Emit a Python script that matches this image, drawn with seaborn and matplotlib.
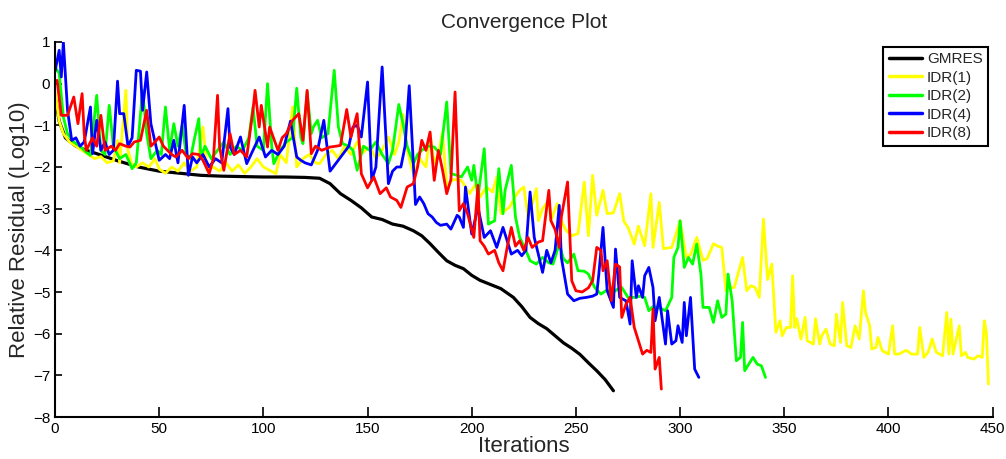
import pandas as pd
import matplotlib
matplotlib.use("Agg")
import matplotlib.pyplot as plt
import seaborn as sns

# values (iteration, log10 relative residual)
gmres_it = [0, 2, 5, 10, 15, 20, 30, 40, 50, 60, 70, 80, 90, 100, 110, 120, 127, 132, 137, 142,
            147, 152, 157, 162, 167, 172, 176, 180, 184, 188, 192, 196, 200, 204, 209, 214, 220,
            224, 228, 232, 236, 240, 244, 248, 252, 256, 260, 264, 268]
gmres_res = [-0.3, -0.9, -1.3, -1.5, -1.6, -1.68, -1.85, -2.0, -2.1, -2.15, -2.2, -2.22, -2.23,
             -2.24, -2.24, -2.25, -2.27, -2.4, -2.64, -2.8, -2.98, -3.2, -3.26, -3.37, -3.42, -3.53,
             -3.65, -3.84, -4.05, -4.25, -4.36, -4.44, -4.6, -4.72, -4.82, -4.92, -5.13, -5.35,
             -5.61, -5.76, -5.88, -6.05, -6.22, -6.35, -6.5, -6.7, -6.89, -7.1, -7.37]

idr1_it = [0, 2, 4, 7, 10, 13, 16, 19, 22, 25, 28, 30, 31, 34, 35, 37, 39, 42, 45, 48, 50, 53,
           56, 59, 62, 65, 68, 71, 73, 76, 79, 82, 85, 88, 91, 94, 97, 100, 103, 106, 108, 111,
           114, 116, 119, 122, 125, 127, 130, 133, 136, 139, 142, 145, 148, 151, 154, 157, 160,
           163, 165, 167, 169, 172, 175, 178, 180, 182, 184, 186, 188, 191, 195, 199, 202, 204,
           207, 210, 212, 214, 218, 221, 223, 225, 227, 229, 231, 232, 234, 237, 238, 241, 243,
           245, 248, 251, 254, 256, 258, 260, 263, 265, 268, 271, 273, 275, 278, 280, 283, 286,
           287, 290, 292, 296, 300, 303, 305, 308, 311, 313, 316, 318, 320, 322, 323, 326, 330,
           332, 334, 336, 338, 340, 342, 344, 346, 348, 349, 351, 353, 354, 355, 356, 358, 360,
           361, 364, 365, 367, 368, 370, 372, 374, 375, 377, 378, 380, 382, 384, 386, 388, 389,
           391, 392, 394, 395, 397, 400, 402, 403, 405, 408, 409, 411, 414, 415, 417, 419, 421,
           423, 426, 428, 429, 430, 431, 434, 435, 437, 438, 441, 443, 445, 446, 447, 448]
idr1_res = [-0.2, -0.9, -1.2, -1.4, -1.5, -1.6, -1.7, -1.8, -1.75, -1.9, -1.85, -1.36, -1.9,
            -0.16, -1.6, -1.95, -2.0, -1.9, -2.0, -1.8, -2.05, -2.15, -2.0, -2.1, -1.9, -2.1, -2.0,
            -1.04, -2.08, -2.0, -2.1, -1.9, -2.1, -1.95, -2.15, -2.0, -1.8, -2.0, -2.08, -2.16,
            -1.7, -1.9, -0.56, -2.0, -1.8, -1.7, -1.9, -1.92, -1.7, -1.6, -1.8, -1.5, -1.7, -1.4,
            -1.65, -1.5, -1.8, -1.6, -1.28, -1.7, -1.4, -0.74, -1.6, -2.16, -1.8, -2.0, -1.2,
            -1.9, -1.7, -1.16, -2.48, -2.3, -2.32, -2.64, -2.4, -2.72, -2.48, -2.6, -2.24, -3.12,
            -2.97, -2.7, -2.56, -2.48, -3.2, -2.9, -2.52, -3.29, -3.0, -2.8, -3.29, -2.88, -3.29,
            -3.5, -3.65, -3.6, -2.36, -3.65, -2.2, -3.16, -2.56, -3.12, -3.1, -2.64, -3.3, -3.45,
            -3.85, -3.42, -3.89, -2.64, -3.93, -2.85, -3.96, -3.93, -3.29, -4.17, -4.1, -3.69,
            -4.24, -4.2, -3.84, -3.9, -3.93, -4.97, -4.9, -4.89, -4.17, -4.97, -4.85, -4.89,
            -5.13, -3.25, -4.7, -4.33, -5.97, -5.69, -6.05, -5.85, -5.85, -4.61, -5.85, -5.64,
            -6.13, -5.61, -6.17, -6.25, -5.64, -6.25, -6.05, -5.89, -6.25, -6.29, -5.53, -6.21,
            -5.25, -6.29, -6.33, -5.81, -6.13, -4.97, -5.49, -5.81, -6.37, -6.33, -6.09, -6.41,
            -6.49, -5.81, -6.49, -6.49, -6.41, -6.41, -6.49, -6.49, -5.85, -6.57, -6.45, -6.13,
            -6.45, -6.53, -5.49, -6.49, -5.65, -6.49, -5.81, -6.53, -6.45, -6.57, -6.61, -6.53,
            -6.57, -5.69, -5.97, -7.21]

idr2_it = [0, 2, 4, 6, 9, 12, 15, 17, 20, 22, 24, 26, 28, 31, 34, 37, 39, 42, 44, 46, 49, 51,
           53, 55, 57, 59, 61, 63, 65, 67, 69, 70, 72, 75, 78, 81, 84, 87, 90, 93, 95, 97, 100,
           102, 104, 105, 108, 111, 114, 116, 118, 119, 121, 123, 124, 126, 128, 131, 134, 136,
           138, 141, 143, 145, 148, 151, 154, 157, 160, 162, 165, 167, 169, 172, 174, 176, 179,
           182, 185, 188, 190, 193, 195, 198, 200, 201, 203, 206, 208, 211, 213, 215, 216, 219,
           221, 223, 226, 228, 231, 234, 237, 239, 242, 244, 246, 249, 251, 254, 256, 259, 262,
           265, 267, 270, 272, 275, 278, 281, 283, 285, 287, 289, 291, 293, 296, 297, 299, 300,
           302, 304, 306, 308, 310, 311, 314, 316, 318, 320, 322, 323, 325, 327, 329, 330, 331,
           333, 335, 337, 339, 341]
idr2_res = [0.4, 0.25, -0.8, -1.2, -1.4, -1.5, -1.65, -1.72, -0.28, -1.6, -1.7, -0.52, -1.5,
            -1.8, -1.7, -2.04, -1.9, -0.16, -1.2, -1.8, -1.6, -1.7, -0.56, -1.6, -0.96, -1.5,
            -1.0, -1.7, -1.8, -1.3, -0.84, -1.76, -1.5, -1.8, -1.6, -1.4, -1.7, -1.5, -1.6, -1.3,
            -0.56, -1.5, -1.6, 0.0, -1.5, -1.92, -1.6, -1.4, -1.3, -0.11, -1.3, -1.44, -0.2,
            -1.2, -1.04, -0.88, -1.3, -1.2, 0.32, -1.04, -1.44, -1.5, -1.6, -2.08, -1.5, -1.6,
            -1.4, -1.7, -1.92, -1.6, -0.5, -0.96, -1.5, -1.92, -1.7, -1.6, -1.5, -1.52, -1.7,
            -0.44, -2.16, -2.2, -2.24, -2.0, -2.32, -1.96, -2.72, -1.56, -3.37, -3.29, -2.04,
            -3.12, -2.56, -1.96, -3.2, -3.69, -4.0, -4.25, -4.33, -4.17, -4.3, -4.33, -3.85, -4.2,
            -4.3, -4.09, -4.49, -4.5, -4.57, -4.89, -5.05, -4.95, -5.05, -4.93, -4.89, -5.13,
            -5.13, -5.1, -5.13, -5.45, -5.35, -5.37, -5.4, -5.45, -5.13, -4.17, -3.93, -3.29,
            -4.41, -4.17, -4.33, -3.85, -4.57, -5.37, -5.37, -5.73, -5.21, -5.61, -5.53, -4.57,
            -5.21, -6.65, -6.57, -5.73, -6.89, -6.73, -6.57, -6.73, -6.77, -7.05]

idr4_it = [0, 2, 3, 4, 6, 8, 10, 12, 14, 17, 18, 20, 22, 24, 26, 28, 30, 31, 33, 35, 37, 39, 41,
           42, 44, 46, 48, 50, 53, 55, 57, 59, 62, 64, 66, 68, 71, 74, 77, 80, 83, 84, 86, 89,
           92, 95, 98, 101, 104, 107, 110, 113, 116, 118, 120, 123, 126, 129, 132, 135, 138, 141,
           143, 145, 147, 150, 152, 154, 157, 160, 162, 164, 166, 168, 170, 173, 175, 177, 179,
           181, 183, 185, 188, 190, 193, 194, 196, 197, 200, 203, 206, 209, 212, 215, 219, 222,
           224, 226, 228, 230, 232, 234, 236, 238, 240, 242, 243, 246, 249, 252, 255, 258, 260,
           261, 263, 265, 268, 269, 271, 274, 276, 277, 279, 280, 282, 283, 285, 287, 288, 290,
           293, 294, 296, 298, 299, 301, 302, 303, 305, 307, 309]
idr4_res = [0.3, 0.8, 0.16, 1.0, -0.64, -1.36, -1.3, -1.5, -1.4, -0.56, -1.68, -0.88, -1.6, -1.4,
            -1.7, -1.6, 0.06, -0.72, -0.72, -1.5, -1.3, 0.32, 0.3, -0.64, 0.28, -0.96, -1.4,
            -1.84, -1.7, -1.8, -1.36, -1.9, -0.52, -2.2, -1.76, -1.9, -1.7, -2.0, -1.8, -1.9,
            -0.6, -1.52, -1.7, -1.28, -1.92, -1.6, -1.28, -1.76, -1.6, -1.7, -1.5, -0.9, -1.76,
            -1.84, -1.9, -1.95, -1.6, -0.88, -2.1, -1.9, -1.7, -1.5, -1.04, -1.0, -1.28, 0.04,
            -2.32, -2.0, 0.4, -2.4, -2.1, -2.0, -2.0, -1.5, -0.05, -2.9, -2.72, -2.88, -3.12,
            -3.2, -3.33, -3.4, -3.37, -3.49, -3.16, -3.2, -3.45, -2.48, -3.61, -2.97, -3.69,
            -3.53, -3.93, -3.45, -4.09, -4.0, -4.13, -4.0, -2.6, -3.69, -4.1, -4.53, -4.0, -4.3,
            -4.0, -2.92, -4.17, -5.05, -5.21, -5.15, -5.13, -5.1, -5.05, -4.57, -3.45, -4.97,
            -5.37, -3.97, -5.13, -5.21, -5.77, -4.25, -5.13, -4.85, -5.13, -4.61, -4.41, -4.89,
            -5.69, -5.13, -6.25, -5.45, -6.25, -6.17, -5.81, -6.21, -5.25, -6.05, -5.13, -6.85,
            -7.05]

idr8_it = [0, 1, 3, 6, 9, 11, 13, 14, 15, 18, 20, 22, 24, 27, 29, 31, 34, 36, 38, 41, 44, 46,
           48, 50, 52, 54, 56, 58, 61, 64, 66, 69, 71, 74, 76, 78, 79, 81, 84, 86, 89, 92, 95,
           96, 98, 99, 102, 103, 107, 109, 111, 114, 117, 119, 121, 123, 125, 128, 132, 135, 137,
           140, 142, 145, 147, 150, 153, 156, 159, 161, 164, 166, 169, 172, 174, 176, 178, 180,
           182, 184, 186, 188, 190, 192, 194, 196, 198, 201, 203, 204, 206, 208, 211, 213, 215,
           217, 219, 221, 223, 225, 227, 229, 232, 234, 237, 238, 240, 242, 243, 246, 248, 250,
           253, 256, 258, 260, 262, 263, 265, 267, 269, 271, 272, 274, 276, 278, 280, 282, 284,
           286, 287, 288, 290, 291]
idr8_res = [0.0, 0.08, -0.76, -0.76, -0.32, -0.96, -0.24, -1.2, -1.6, -1.3, -1.5, -0.76, -1.6,
            -1.5, -1.6, -1.44, -1.5, -1.52, -1.4, -1.36, -0.64, -1.5, -1.4, -1.28, -1.5, -1.6,
            -1.7, -1.76, -1.6, -1.8, -1.68, -1.7, -1.84, -2.16, -1.8, -0.28, -1.52, -2.08, -1.2,
            -1.7, -1.6, -1.76, -0.64, -0.16, -1.04, -0.52, -1.52, -1.04, -1.6, -1.3, -1.2, -0.88,
            -0.72, -1.36, -0.16, -1.68, -1.5, -1.6, -1.52, -1.5, -1.48, -0.62, -1.28, -0.72,
            -2.16, -2.5, -2.24, -2.64, -2.5, -2.72, -2.8, -2.97, -2.48, -2.4, -2.0, -1.36, -1.6,
            -1.16, -2.32, -1.6, -2.08, -2.64, -2.3, -0.2, -3.05, -2.88, -3.12, -3.69, -2.44,
            -3.77, -3.9, -4.09, -4.0, -4.3, -4.49, -3.93, -3.45, -3.9, -3.77, -4.0, -3.69, -3.93,
            -3.8, -3.77, -2.56, -3.29, -3.5, -3.93, -3.2, -2.36, -4.73, -4.97, -5.0, -4.9, -4.73,
            -3.93, -4.0, -4.49, -4.25, -5.21, -4.33, -4.4, -5.61, -5.3, -5.13, -5.85, -6.17,
            -6.49, -6.4, -6.45, -5.41, -6.85, -6.57, -7.33]

methods = ["GMRES", "IDR(1)", "IDR(2)", "IDR(4)", "IDR(8)"]
colors = ["#000000", "#FFFF00", "#00FF00", "#0000FF", "#FF0000"]

frames = []
for name, its, res in zip(methods,
                          [gmres_it, idr1_it, idr2_it, idr4_it, idr8_it],
                          [gmres_res, idr1_res, idr2_res, idr4_res, idr8_res]):
    frames.append(pd.DataFrame({"Iterations": its, "Residual": res, "Method": name}))
df = pd.concat(frames, ignore_index=True)

sns.set_style("ticks")
plt.rcParams["font.family"] = ["Liberation Sans", "DejaVu Sans"]

fig = plt.figure(figsize=(10.06, 4.59), dpi=100)
ax = fig.add_axes([0.0547, 0.0915, 0.932, 0.817])

sns.lineplot(data=df, x="Iterations", y="Residual", hue="Method", hue_order=methods,
             palette=colors, estimator=None, sort=False, linewidth=2.0, ax=ax)
for line in ax.get_lines()[:1]:
    line.set_linewidth(2.3)

ax.set_xlim(0, 450)
ax.set_ylim(-8, 1)
ax.set_xticks(range(0, 451, 50))
ax.set_yticks(range(-8, 2))
ax.tick_params(direction="in", labelsize=11, width=1.2, colors="black")
ax.tick_params(axis="x", length=7)
ax.tick_params(axis="y", length=5)
for s in ["top", "right"]:
    ax.spines[s].set_visible(False)
for s in ["left", "bottom"]:
    ax.spines[s].set_linewidth(1.5)
    ax.spines[s].set_color("black")

ax.set_xlabel("Iterations", fontsize=16, labelpad=0)
ax.set_ylabel("Relative Residual (Log10)", fontsize=16, labelpad=2)
ax.set_title("Convergence Plot", fontsize=15, pad=10)

leg = ax.legend(loc="upper right", fontsize=11, frameon=True, fancybox=False,
                borderaxespad=0.3, handlelength=2.2, handletextpad=0.3,
                labelspacing=0.3, borderpad=0.35, title=None)
leg.get_frame().set_edgecolor("black")
leg.get_frame().set_linewidth(1.5)
leg.get_frame().set_alpha(1)
for h in leg.get_lines():
    h.set_linewidth(2.5)

fig.savefig("out.png", dpi=100)
